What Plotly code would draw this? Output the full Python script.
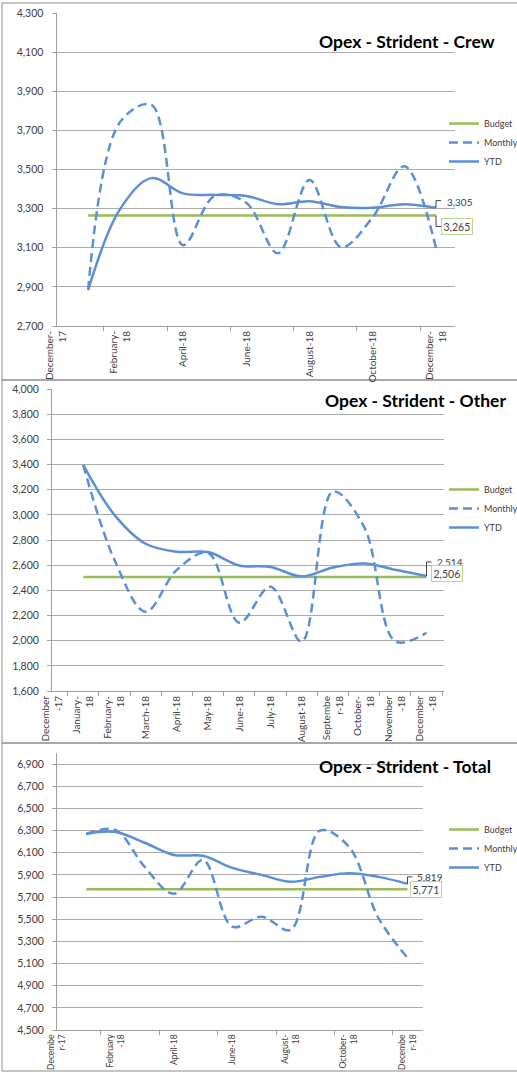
import plotly.graph_objects as go

W, H = 517, 1075

# ---------------- data ----------------
months = ["December-17", "January-18", "February-18", "March-18", "April-18", "May-18",
          "June-18", "July-18", "August-18", "September-18", "October-18",
          "November-18", "December-18"]
data_months = months[1:]

crew_monthly = [2883, 3740, 3830, 3113, 3365, 3330, 3072, 3446, 3103, 3257, 3517, 3098]
crew_ytd = [2883, 3295, 3456, 3378, 3370, 3365, 3323, 3338, 3308, 3305, 3323, 3305]
crew_budget = 3265

other_monthly = [3397, 2643, 2230, 2563, 2698, 2143, 2429, 1992, 3185, 2905, 1995, 2063]
other_ytd = [3397, 3000, 2770, 2706, 2704, 2598, 2586, 2511, 2582, 2614, 2563, 2514]
other_budget = 2506

total_monthly = [6269, 6305, 5972, 5729, 6035, 5432, 5522, 5404, 6300, 6152, 5513, 5152]
total_ytd = [6269, 6287, 6190, 6080, 6072, 5963, 5900, 5837, 5882, 5915, 5882, 5819]
total_budget = 5771

crew_ticks = ["December-17", "February-18", "April-18", "June-18", "August-18", "October-18", "December-18"]
crew_ticktext = ["December-<br>17", "February-<br>18", "April-18", "June-18", "August-18", "October-18", "December-<br>18"]
other_ticks = months
other_ticktext = ["December<br>-17", "January-<br>18", "February-<br>18", "March-18", "April-18", "May-18",
                  "June-18", "July-18", "August-18", "Septembe<br>r-18", "October-<br>18",
                  "November<br>-18", "December<br>-18"]
total_ticks = crew_ticks
total_ticktext = ["Decembe<br>r-17", "February<br>-18", "April-18", "June-18", "August-<br>18", "October-<br>18", "Decembe<br>r-18"]

titles = ["Opex - Strident - Crew", "Opex - Strident - Other", "Opex - Strident - Total"]
series_names = ["Budget", "Monthly", "YTD"]

# ---------------- style ----------------
BLUE = "#5B8FD8"
GREEN = "#9BBB59"
BOXGREEN = "#BBD78F"
GRID = "#ABABAB"
AXIS = "#A0A0A0"
TXT = "#404040"
FONT = "Lato"

def px_x(x):
    return x / W

def px_y(y):
    return 1 - y / H

def pos(m):
    return months.index(m)

xs = [pos(m) for m in data_months]

panels = [
    dict(monthly=crew_monthly, ytd=crew_ytd, budget=crew_budget,
         ticks=crew_ticks, ticktext=crew_ticktext, minor=[1.5, 3.5, 5.5, 7.5, 9.5, 11.5],
         xdom=(56.5, 455), xmax=12.6, ydom=(13, 326), yr=(2700, 4300),
         xfont=10, legend_y=109, legend_font=9, title_xy=(317, 42),
         ytd_lab=(9, 6, "M0,0 V7 H5"), bud_lab=(5, -11.5, "M0,0 V-11 H5")),
    dict(monthly=other_monthly, ytd=other_ytd, budget=other_budget,
         ticks=other_ticks, ticktext=other_ticktext, minor=[i + 0.5 for i in range(13)],
         xdom=(52, 444), xmax=12.56, ydom=(389, 691), yr=(1600, 4000),
         xfont=10, legend_y=475, legend_font=9, title_xy=(323, 400),
         ytd_lab=(8.5, 14, "M0,0 V14 H5"), bud_lab=(4, 3.6, None)),
    dict(monthly=total_monthly, ytd=total_ytd, budget=total_budget,
         ticks=total_ticks, ticktext=total_ticktext, minor=[1.5, 3.5, 5.5, 7.5, 9.5, 11.5],
         xdom=(57, 423), xmax=12.53, ydom=(753, 1030), yr=(4500, 7000),
         xfont=8.5, legend_y=815, legend_font=9, title_xy=(317, 766),
         ytd_lab=(7.6, 6.7, "M0,0 V7 H5"), bud_lab=(2, 0, None)),
]

fig = go.Figure()
layout = dict(
    width=W, height=H, margin=dict(l=0, r=0, t=0, b=0, autoexpand=False),
    paper_bgcolor="white", plot_bgcolor="white",
    font=dict(family=FONT, color="#595959", size=10),
    annotations=[], shapes=[],
)

for i, p in enumerate(panels):
    n = "" if i == 0 else str(i + 1)
    xa, ya = "x" + n, "y" + n
    leg = "legend" + n
    bud = [p["budget"]] * len(xs)
    fig.add_trace(go.Scatter(x=xs, y=bud, mode="lines", name=series_names[0],
                             line=dict(color=GREEN, width=2.5), xaxis=xa, yaxis=ya, legend=leg))
    fig.add_trace(go.Scatter(x=xs, y=p["monthly"], mode="lines", name=series_names[1],
                             line=dict(color=BLUE, width=2.5, dash="9px,5px", shape="spline", smoothing=1.0),
                             xaxis=xa, yaxis=ya, legend=leg))
    fig.add_trace(go.Scatter(x=xs, y=p["ytd"], mode="lines", name=series_names[2],
                             line=dict(color=BLUE, width=2.5, shape="spline", smoothing=1.0),
                             xaxis=xa, yaxis=ya, legend=leg))

    layout["xaxis" + n] = dict(
        domain=[px_x(p["xdom"][0]), px_x(p["xdom"][1])], range=[0, p["xmax"]], anchor=ya,
        tickmode="array", tickvals=[pos(m) for m in p["ticks"]], ticktext=p["ticktext"],
        tickangle=-90, ticks="", showgrid=False, zeroline=False,
        showline=True, linecolor=AXIS, linewidth=1,
        tickfont=dict(size=p["xfont"], color="#404040", family=FONT),
        minor=dict(tickmode="array", tickvals=p["minor"], ticks="outside", ticklen=4,
                   tickcolor=AXIS, showgrid=False),
        fixedrange=True,
    )
    ylo, yhi = p["ydom"]
    layout["yaxis" + n] = dict(
        domain=[px_y(yhi), px_y(ylo)], range=list(p["yr"]), anchor=xa,
        tickmode="linear", tick0=p["yr"][0], dtick=200, tickformat=",d",
        ticks="outside", ticklen=4, tickcolor=AXIS, ticklabelstandoff=6,
        showgrid=True, gridcolor=GRID, gridwidth=1, zeroline=False,
        showline=True, linecolor=AXIS, linewidth=1,
        tickfont=dict(size=10.5, color="#404040", family=FONT),
        fixedrange=True,
    )
    layout[leg] = dict(
        x=px_x(444), y=px_y(p["legend_y"]), xanchor="left", yanchor="top",
        bgcolor="rgba(0,0,0,0)", borderwidth=0,
        font=dict(size=p["legend_font"], color="#404040", family=FONT),
        tracegroupgap=0,
    )
    # title
    tx, ty = p["title_xy"]
    layout["annotations"].append(dict(
        text="<b>" + titles[i] + "</b>", x=px_x(tx), y=px_y(ty), xref="paper", yref="paper",
        xanchor="left", yanchor="middle", showarrow=False,
        font=dict(size=17.5, color="#000000", family=FONT)))
    # data labels
    last_x = xs[-1]
    dx, dy, path = p["ytd_lab"]
    layout["annotations"].append(dict(
        text=f"{p['ytd'][-1]:,}", x=last_x, y=p["ytd"][-1], xref=xa, yref=ya,
        xanchor="left", yanchor="middle", showarrow=False, xshift=dx, yshift=dy,
        font=dict(size=10, color=TXT, family=FONT)))
    if path:
        layout["shapes"].append(dict(
            type="path", xref=xa, yref=ya, xsizemode="pixel", ysizemode="pixel",
            xanchor=last_x, yanchor=p["ytd"][-1], path=path,
            line=dict(color="#404040", width=1)))
    bx, by, bpath = p["bud_lab"]
    layout["annotations"].append(dict(
        text=f"{p['budget']:,}", x=last_x, y=p["budget"], xref=xa, yref=ya,
        xanchor="left", yanchor="middle", showarrow=False, xshift=bx, yshift=by,
        bordercolor=BOXGREEN, borderwidth=1, borderpad=1.5, bgcolor="white",
        font=dict(size=10.5, color=TXT, family=FONT)))
    if bpath:
        layout["shapes"].append(dict(
            type="path", xref=xa, yref=ya, xsizemode="pixel", ysizemode="pixel",
            xanchor=last_x, yanchor=p["budget"], path=bpath,
            line=dict(color="#404040", width=1)))

# panel borders
for (t, b) in [(3, 380), (380, 743), (743, 1071)]:
    layout["shapes"].append(dict(
        type="rect", xref="paper", yref="paper", x0=px_x(2), x1=px_x(540),
        y0=px_y(b), y1=px_y(t), line=dict(color="#8C8C8C", width=1), layer="below"))

fig.update_layout(**layout)
fig.write_html("out.html", config={"displayModeBar": False},
               post_script="document.body.style.margin='0';document.body.style.padding='0';document.body.style.overflow='hidden';")
